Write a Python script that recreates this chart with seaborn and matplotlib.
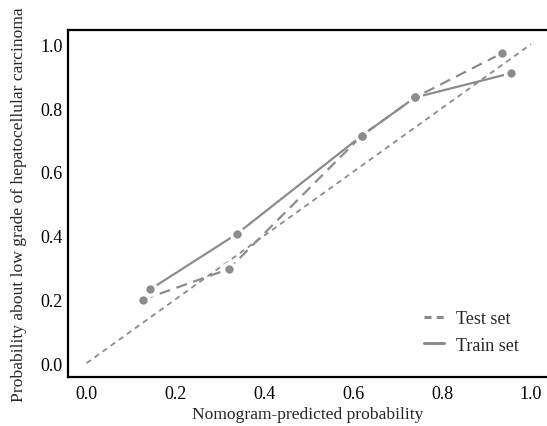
import matplotlib
matplotlib.use("Agg")
import matplotlib.pyplot as plt
import seaborn as sns
import pandas as pd

# calibration points
test_pred = [0.127, 0.320, 0.619, 0.739, 0.934]
test_obs = [0.199, 0.295, 0.713, 0.833, 0.971]
train_pred = [0.143, 0.338, 0.619, 0.739, 0.955]
train_obs = [0.231, 0.405, 0.713, 0.833, 0.909]
ideal = [0.0, 1.0]
ticks = [0.0, 0.2, 0.4, 0.6, 0.8, 1.0]

sns.set_style("white")
plt.rcParams['font.family'] = ['Liberation Serif', 'DejaVu Serif']

grey = "#8c8c8c"

fig, ax = plt.subplots(figsize=(5.47, 4.27), dpi=100)
fig.subplots_adjust(left=0.124, right=1.0, bottom=0.115, top=0.927)

# ideal diagonal
sns.lineplot(x=ideal, y=ideal, ax=ax, color=grey, lw=1.3, linestyle=(0, (3, 2.5)))

test = pd.DataFrame({"x": test_pred, "y": test_obs})
train = pd.DataFrame({"x": train_pred, "y": train_obs})

sns.lineplot(data=test, x="x", y="y", ax=ax, sort=False, color=grey, lw=1.6,
             linestyle=(0, (5, 3)), label="Test set")
sns.lineplot(data=train, x="x", y="y", ax=ax, sort=False, color=grey, lw=1.6,
             label="Train set")

# points with a white gap around them, like R's type="b"
for df in (test, train):
    ax.plot(df["x"], df["y"], ls="none", marker="o", ms=11, mfc="white",
            mec="none", zorder=4)
for df in (test, train):
    ax.plot(df["x"], df["y"], ls="none", marker="o", ms=6, mfc=grey,
            mec="none", zorder=5)

ax.set_xlim(-0.042, 1.036)
ax.set_ylim(-0.043, 1.044)
ax.set_xticks(ticks)
ax.set_yticks(ticks)
ax.set_xticklabels([f"{t:.1f}" for t in ticks])
ax.set_yticklabels([f"{t:.1f}" for t in ticks])
ax.tick_params(direction="in", length=5, width=1.2, labelsize=13, colors="black")
ax.tick_params(axis="x", pad=6)
ax.set_xlabel("Nomogram-predicted probability", fontsize=12.6, labelpad=3)
ax.set_ylabel("Probability about low grade of hepatocellular carcinoma", fontsize=12.6, labelpad=10)

for side in ("left", "bottom", "top"):
    ax.spines[side].set_color("black")
    ax.spines[side].set_linewidth(1.6)
ax.spines["right"].set_visible(False)

leg = ax.legend(loc="lower right", frameon=False, fontsize=13, handlelength=1.1,
                bbox_to_anchor=(0.975, 0.02), labelspacing=0.53, handletextpad=0.66)
for h in leg.get_lines():
    h.set_linewidth(2.2)
leg.get_lines()[0].set_dashes((2.3, 1.7))

plt.savefig("out.png", dpi=100)
